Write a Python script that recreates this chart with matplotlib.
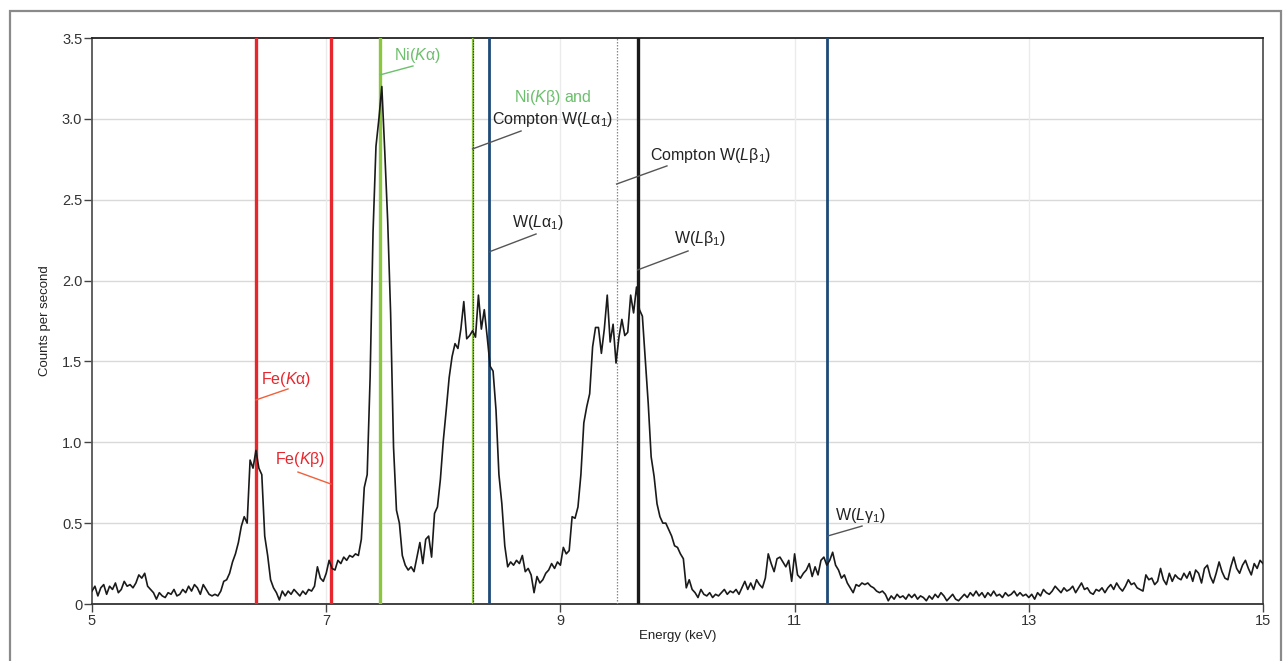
import matplotlib
matplotlib.use("Agg")
import matplotlib.pyplot as plt
from matplotlib.patches import Rectangle
import numpy as np

plt.rcParams['font.family'] = ['Liberation Sans', 'DejaVu Sans']
plt.rcParams['mathtext.fontset'] = 'custom'
plt.rcParams['mathtext.rm'] = 'Liberation Sans'
plt.rcParams['mathtext.it'] = 'Liberation Sans:italic'

# ---------------- data ----------------
energy_start = 5.0
energy_step = 0.025

counts_5 = [0.08, 0.11, 0.05, 0.10, 0.12, 0.06, 0.11, 0.09, 0.13, 0.07,
            0.09, 0.14, 0.11, 0.12, 0.10, 0.13, 0.18, 0.16, 0.19, 0.11,
            0.09, 0.07, 0.03, 0.07, 0.05, 0.04, 0.07, 0.06, 0.09, 0.05,
            0.06, 0.09, 0.07, 0.11, 0.08, 0.12, 0.10, 0.06, 0.12, 0.09]
counts_6 = [0.06, 0.05, 0.06, 0.05, 0.08, 0.14, 0.15, 0.19, 0.26, 0.31,
            0.38, 0.48, 0.54, 0.50, 0.89, 0.84, 0.95, 0.84, 0.80, 0.42,
            0.30, 0.15, 0.10, 0.07, 0.025, 0.08, 0.05, 0.08, 0.06, 0.09,
            0.07, 0.05, 0.08, 0.06, 0.09, 0.08, 0.11, 0.23, 0.16, 0.14]
counts_7 = [0.19, 0.27, 0.22, 0.21, 0.27, 0.25, 0.29, 0.27, 0.30, 0.29,
            0.31, 0.30, 0.40, 0.72, 0.80, 1.40, 2.30, 2.83, 3.00, 3.20,
            2.80, 2.37, 1.80, 0.97, 0.58, 0.50, 0.30, 0.24, 0.21, 0.23,
            0.20, 0.29, 0.38, 0.25, 0.40, 0.42, 0.29, 0.56, 0.60, 0.77]
counts_8 = [1.01, 1.20, 1.40, 1.53, 1.61, 1.58, 1.70, 1.87, 1.64, 1.66,
            1.69, 1.65, 1.91, 1.70, 1.82, 1.65, 1.47, 1.44, 1.20, 0.80,
            0.62, 0.36, 0.23, 0.26, 0.24, 0.27, 0.25, 0.30, 0.20, 0.22,
            0.18, 0.07, 0.17, 0.13, 0.15, 0.19, 0.21, 0.25, 0.22, 0.26]
counts_9 = [0.24, 0.35, 0.31, 0.33, 0.54, 0.53, 0.60, 0.80, 1.12, 1.22,
            1.30, 1.59, 1.71, 1.71, 1.55, 1.70, 1.91, 1.62, 1.73, 1.49,
            1.65, 1.76, 1.66, 1.68, 1.91, 1.80, 1.96, 1.82, 1.78, 1.51,
            1.24, 0.91, 0.79, 0.62, 0.54, 0.50, 0.50, 0.46, 0.42, 0.36]
counts_10 = [0.35, 0.31, 0.28, 0.10, 0.15, 0.09, 0.07, 0.04, 0.09, 0.06,
             0.05, 0.07, 0.04, 0.06, 0.05, 0.07, 0.09, 0.06, 0.08, 0.07,
             0.09, 0.06, 0.10, 0.14, 0.09, 0.13, 0.09, 0.15, 0.12, 0.10,
             0.16, 0.31, 0.25, 0.20, 0.28, 0.29, 0.26, 0.23, 0.27, 0.14]
counts_11 = [0.31, 0.18, 0.16, 0.19, 0.21, 0.25, 0.17, 0.23, 0.18, 0.27,
             0.29, 0.24, 0.27, 0.32, 0.24, 0.21, 0.16, 0.18, 0.13, 0.10,
             0.07, 0.12, 0.11, 0.13, 0.12, 0.13, 0.11, 0.10, 0.08, 0.07,
             0.08, 0.06, 0.02, 0.05, 0.03, 0.06, 0.04, 0.05, 0.03, 0.06]
counts_12 = [0.04, 0.06, 0.03, 0.05, 0.04, 0.02, 0.05, 0.03, 0.06, 0.04,
             0.07, 0.05, 0.02, 0.04, 0.06, 0.03, 0.02, 0.04, 0.06, 0.04,
             0.07, 0.05, 0.08, 0.05, 0.07, 0.04, 0.07, 0.05, 0.08, 0.05,
             0.06, 0.04, 0.07, 0.05, 0.06, 0.08, 0.05, 0.07, 0.05, 0.06]
counts_13 = [0.04, 0.06, 0.03, 0.07, 0.05, 0.09, 0.07, 0.06, 0.08, 0.11,
             0.09, 0.07, 0.10, 0.08, 0.09, 0.11, 0.07, 0.10, 0.13, 0.09,
             0.10, 0.07, 0.06, 0.09, 0.08, 0.10, 0.07, 0.10, 0.12, 0.09,
             0.13, 0.10, 0.08, 0.11, 0.15, 0.12, 0.13, 0.10, 0.09, 0.08]
counts_14 = [0.18, 0.15, 0.16, 0.12, 0.14, 0.22, 0.15, 0.12, 0.19, 0.14,
             0.18, 0.16, 0.15, 0.19, 0.16, 0.20, 0.14, 0.21, 0.19, 0.13,
             0.22, 0.24, 0.17, 0.13, 0.19, 0.26, 0.20, 0.16, 0.15, 0.23,
             0.29, 0.22, 0.19, 0.24, 0.27, 0.22, 0.18, 0.25, 0.22, 0.27,
             0.25]

counts = (counts_5 + counts_6 + counts_7 + counts_8 + counts_9 + counts_10
          + counts_11 + counts_12 + counts_13 + counts_14)
energies = energy_start + energy_step * np.arange(len(counts))

# emission lines: (energy keV, name)
line_energies = [6.40, 7.04, 7.46, 8.25, 8.39, 9.48, 9.66, 11.28]

x_ticks = [5, 7, 9, 11, 13, 15]
y_ticks = [0, 0.5, 1.0, 1.5, 2.0, 2.5, 3.0, 3.5]
y_tick_labels = ['0', '0.5', '1.0', '1.5', '2.0', '2.5', '3.0', '3.5']

# ---------------- styling ----------------
RED = '#e8262d'
GREEN = '#8cc63f'
GREEN_TXT = '#6cbf6c'
BLUE = '#1d4a78'
BLACK = '#1a1a1a'
GRAY = '#555555'

fig = plt.figure(figsize=(12.84, 6.61), dpi=100)
ax = fig.add_axes([92/1284, (661-604)/661, (1263-92)/1284, (604-38)/661])

ax.set_xlim(5, 15)
ax.set_ylim(0, 3.5)
ax.set_xticks(x_ticks)
ax.set_yticks(y_ticks)
ax.set_yticklabels(y_tick_labels)
ax.tick_params(axis='both', direction='out', length=6, width=1, colors='#444444',
               labelsize=10.5, labelcolor='#333333', pad=1)
for g in y_ticks[1:-1]:
    ax.axhline(g, color='#d9d9d9', lw=1.0, zorder=0)
for g in x_ticks[1:-1]:
    ax.axvline(g, color='#ebebeb', lw=1.0, zorder=0)

for s in ['left', 'right']:
    ax.spines[s].set_color('#555555')
    ax.spines[s].set_linewidth(1.3)
ax.spines['top'].set_color('#222222')
ax.spines['top'].set_linewidth(1.3)
ax.spines['bottom'].set_color('#333333')
ax.spines['bottom'].set_linewidth(1.3)

# vertical emission lines
ax.axvline(line_energies[0], color=RED, lw=2.4, zorder=3)
ax.axvline(line_energies[1], color=RED, lw=2.4, zorder=3)
ax.axvline(line_energies[2], color=GREEN, lw=2.4, zorder=3)
ax.axvline(line_energies[3], color=GREEN, lw=1.6, zorder=3)
ax.axvline(line_energies[3], color='#333333', lw=0.8, ls=(0, (1.2, 1.2)), zorder=3)
ax.axvline(line_energies[4], color=BLUE, lw=2.0, zorder=3)
ax.axvline(line_energies[5], color='#888888', lw=0.9, ls=(0, (1.2, 1.2)), zorder=3)
ax.axvline(line_energies[6], color=BLACK, lw=2.4, zorder=3)
ax.axvline(line_energies[7], color=BLUE, lw=2.0, zorder=3)

# spectrum
ax.plot(energies, counts, color=BLACK, lw=1.2, zorder=4)

# labels: (line index, leader start y, leader end (x, y), text pos, text, colour, leader colour)
fs = 11.5
labels = [
    (0, 1.262, (6.674, 1.33), (6.657, 1.391), r'Fe($\mathit{K}$α)', RED, '#f0603a'),
    (1, 0.742, (6.759, 0.816), (6.776, 0.891), r'Fe($\mathit{K}$β)', RED, '#f0603a'),
    (2, 3.272, (7.741, 3.327), (7.775, 3.389), r'Ni($\mathit{K}$α)', GREEN_TXT, GREEN_TXT),
    (3, 2.814, (8.664, 2.925), (8.937, 2.999), r'Compton W($\mathit{L}$α$_1$)', '#222222', '#555555'),
    (4, 2.177, (8.792, 2.288), (8.809, 2.362), r'W($\mathit{L}$α$_1$)', '#222222', '#555555'),
    (5, 2.597, (9.91, 2.709), (10.286, 2.771), r'Compton W($\mathit{L}$β$_1$)', '#222222', '#555555'),
    (6, 2.066, (10.09, 2.183), (10.19, 2.263), r'W($\mathit{L}$β$_1$)', '#222222', '#555555'),
    (7, 0.42, (11.576, 0.482), (11.559, 0.55), r'W($\mathit{L}$γ$_1$)', '#222222', '#555555'),
]
for idx, y0, (x1, y1), (tx, ty), txt, tc, lc in labels:
    ax.plot([line_energies[idx], x1], [y0, y1], color=lc, lw=1.0, zorder=5)
    ax.text(tx, ty, txt, color=tc, fontsize=fs, ha='center', va='center', zorder=6)
ax.text(8.937, 3.135, r'Ni($\mathit{K}$β) and', color=GREEN_TXT, fontsize=fs,
        ha='center', va='center', zorder=6)

ax.set_xlabel('Energy (keV)', fontsize=9.5, color='#222222', labelpad=2)
ax.set_ylabel('Counts per second', fontsize=9.5, color='#222222', labelpad=8)

# outer frame
fig.patches.append(Rectangle((10/1284, -0.05), (1281-10)/1284, (661-11)/661 + 0.05,
                             transform=fig.transFigure, fill=False,
                             edgecolor='#8a8a8a', lw=1.6))

fig.savefig('out.png', dpi=100)
